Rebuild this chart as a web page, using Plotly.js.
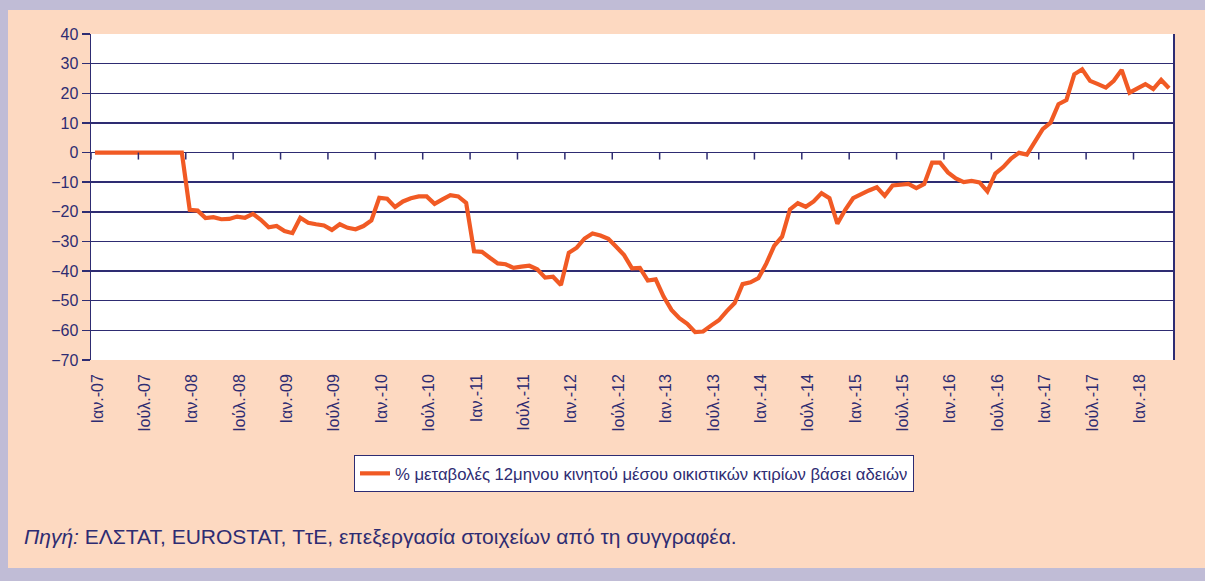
<!DOCTYPE html>
<html>
<head>
<meta charset="utf-8">
<script src="https://cdn.plot.ly/plotly-3.0.1.min.js"></script>
<style>
  html, body { margin: 0; padding: 0; background: #FDD9C1; }
  #chart { width: 1205px; height: 581px; }
</style>
</head>
<body>
<div id="chart"></div>
<script>
// Monthly values, Jan 2007 – May 2018 (index 0 = Ιαν.-07)
const seriesName = "% μεταβολές 12μηνου κινητού μέσου οικιστικών κτιρίων βάσει αδειών";
const values2007 = [0, 0, 0, 0, 0, 0, 0, 0, 0, 0, 0, 0];
const values2008 = [-19.3, -19.6, -22.1, -21.8, -22.5, -22.4, -21.6, -22.0, -20.7, -22.7, -25.2, -24.8];
const values2009 = [-26.5, -27.2, -22.0, -23.7, -24.2, -24.6, -26.1, -24.2, -25.4, -25.9, -24.8, -22.9];
const values2010 = [-15.3, -15.6, -18.4, -16.5, -15.4, -14.8, -14.8, -17.3, -15.8, -14.4, -14.8, -17.0];
const values2011 = [-33.3, -33.5, -35.5, -37.4, -37.7, -38.9, -38.5, -38.2, -39.4, -42.2, -41.9, -44.7];
const values2012 = [-33.8, -32.1, -29.0, -27.3, -28.0, -29.1, -31.8, -34.6, -39.1, -38.9, -43.2, -42.8];
const values2013 = [-48.6, -53.1, -55.9, -57.8, -60.6, -60.4, -58.4, -56.6, -53.5, -50.8, -44.4, -43.8];
const values2014 = [-42.4, -37.5, -31.5, -28.4, -19.2, -17.1, -18.3, -16.5, -13.7, -15.4, -24.0, -19.3];
const values2015 = [-15.4, -14.0, -12.8, -11.7, -14.6, -11.1, -10.7, -10.6, -12.0, -10.6, -3.4, -3.4];
const values2016 = [-6.7, -8.7, -10.0, -9.6, -10.1, -13.1, -7.1, -4.9, -2.0, -0.1, -0.7, 3.8];
const values2017 = [7.9, 10.1, 16.3, 17.7, 26.4, 28.1, 24.2, 23.1, 21.9, 24.2, 27.9, 20.2];
const values2018 = [21.7, 23.1, 21.4, 24.5, 21.7];

const tickLabels = ["Ιαν.-07","Ιούλ.-07","Ιαν.-08","Ιούλ.-08","Ιαν.-09","Ιούλ.-09","Ιαν.-10","Ιούλ.-10",
  "Ιαν.-11","Ιούλ.-11","Ιαν.-12","Ιούλ.-12","Ιαν.-13","Ιούλ.-13","Ιαν.-14","Ιούλ.-14","Ιαν.-15",
  "Ιούλ.-15","Ιαν.-16","Ιούλ.-16","Ιαν.-17","Ιούλ.-17","Ιαν.-18"];
const monthsPerTick = 6;
const sourceText = "<i>Πηγή:</i> ΕΛΣΤΑΤ, EUROSTAT, ΤτΕ, επεξεργασία στοιχείων από τη συγγραφέα.";

const values = [].concat(values2007, values2008, values2009, values2010, values2011, values2012,
  values2013, values2014, values2015, values2016, values2017, values2018);
const xIdx = values.map((v, i) => i);
const tickVals = tickLabels.map((t, k) => k * monthsPerTick + 0.3);

const navy = "#2E2C72";
const lavender = "#C0BCD6";
const fontFam = "Liberation Sans, Arial, sans-serif";

// x-axis tick marks on the zero line, between month groups
const tickShapes = tickLabels.map((t, k) => ({
  type: "line", xref: "x", yref: "y", ysizemode: "pixel", yanchor: 0,
  x0: k * monthsPerTick - 0.5, x1: k * monthsPerTick - 0.5, y0: 0, y1: -7,
  line: { color: navy, width: 1.5 }, layer: "above"
}));

// lavender frame around the peach page (paper coords relative to plot area 1082x326)
const PW = 1082, PH = 326, L = 91, B = 360;
const fx = px => (px - L) / PW;
const fy = py => (B - py) / PH;
const frame = [
  [0, 0, 8, 581], [0, 0, 1205, 10], [0, 568, 1205, 581]
].map(r => ({
  type: "rect", xref: "paper", yref: "paper", layer: "below",
  x0: fx(r[0]), x1: fx(r[2]), y0: fy(r[3]), y1: fy(r[1]),
  fillcolor: lavender, line: { width: 0 }
}));

const trace = {
  x: xIdx, y: values, type: "scatter", mode: "lines", name: seriesName,
  line: { color: "#F15A24", width: 4.2 }
};

const layout = {
  width: 1205, height: 581,
  margin: { l: 91, r: 32, t: 34, b: 221 },
  paper_bgcolor: "#FDD9C1",
  plot_bgcolor: "#FFFFFF",
  font: { family: fontFam, color: navy, size: 16 },
  showlegend: true,
  legend: {
    x: fx(634), xanchor: "center", y: fy(455), yanchor: "top",
    bgcolor: "#FFFFFF", bordercolor: navy, borderwidth: 1,
    font: { family: fontFam, size: 16.7, color: navy }
  },
  xaxis: {
    range: [-0.5, 136.5], tickvals: tickVals, ticktext: tickLabels,
    tickangle: -90, showgrid: false, zeroline: false, showline: false,
    ticks: "", ticklabelstandoff: 10,
    tickfont: { family: fontFam, size: 16, color: navy }, fixedrange: true
  },
  yaxis: {
    range: [-70, 40], dtick: 10, tick0: 0,
    showgrid: true, gridcolor: navy, gridwidth: 1.5,
    zeroline: false, showline: true, mirror: true, linecolor: navy, linewidth: 1.5,
    ticks: "outside", ticklen: 8, tickcolor: navy, tickwidth: 1.5,
    tickfont: { family: fontFam, size: 16, color: navy }, fixedrange: true
  },
  shapes: frame.concat(tickShapes),
  annotations: [{
    xref: "paper", yref: "paper", x: fx(22), y: fy(536),
    xanchor: "left", yanchor: "middle", showarrow: false,
    text: sourceText, font: { family: fontFam, size: 21, color: navy }
  }]
};

Plotly.newPlot("chart", [trace], layout, { displayModeBar: false, staticPlot: true });
</script>
</body>
</html>
